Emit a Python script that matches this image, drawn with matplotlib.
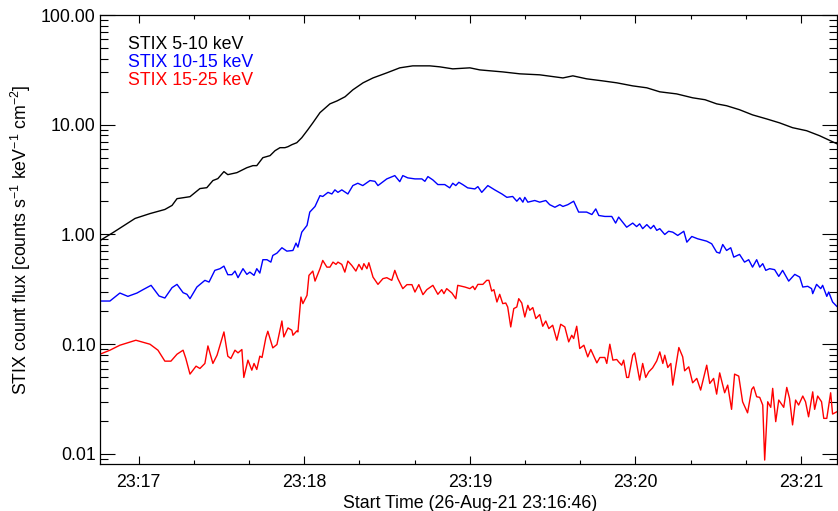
import numpy as np
import pandas as pd
import matplotlib
matplotlib.use("Agg")
import matplotlib.pyplot as plt
import matplotlib.dates as mdates
from matplotlib.ticker import LogLocator, FormatStrFormatter, NullFormatter

plt.rcParams['font.family'] = ['Liberation Sans', 'DejaVu Sans']
plt.rcParams['mathtext.default'] = 'regular'

# start of the time axis, data times are seconds after it
t_start = pd.Timestamp('2021-08-26 23:16:46')
t_span = 267

# STIX 5-10 keV
black_t = [0, 4.7, 12.7, 18.1, 23.5, 26.1, 27.9, 32.6, 36.2, 38.7,
           40.9, 42.7, 44.9, 46.3, 49.6, 53.2, 55.4, 56.8, 59.0, 61.6,
           63.4, 65.2, 67.0, 68.1, 69.5, 71.3, 73.1, 75.3, 77.1, 79.7,
           83.3, 85.9, 88.8, 91.6, 95.3, 98.9, 103.9, 108.6, 113.3, 119.5,
           123.1, 127.8, 134.0, 137.6, 145.9, 152.1, 159.3, 167.7, 171.3, 176.3,
           182.1, 187.2, 193.0, 198.1, 202.8, 208.9, 214.7, 219.2, 223.4, 227.0,
           231.7, 236.4, 241.5, 246.2, 250.9, 256.0, 260.7, 266.9]
black_v = [0.88, 1.04, 1.40, 1.55, 1.69, 1.84, 2.12, 2.21, 2.62, 2.67,
           3.10, 3.23, 3.74, 3.51, 3.66, 4.06, 4.24, 4.24, 5.01, 5.23,
           5.80, 6.18, 6.18, 6.31, 6.58, 6.86, 7.62, 9.01, 10.4, 12.9,
           15.5, 16.5, 18.0, 20.8, 24.1, 26.7, 29.7, 33.0, 34.4, 34.4,
           33.7, 32.3, 33.0, 31.6, 30.3, 29.1, 28.5, 26.7, 27.9, 26.2,
           25.1, 24.1, 22.6, 21.7, 19.95, 19.1, 17.6, 16.9, 15.5, 14.9,
           13.7, 12.3, 11.3, 10.4, 9.4, 8.82, 7.94, 6.72]

# STIX 10-15 keV
blue_t = [0, 3.6, 7.2, 10.1, 13.4, 15.6, 18.5, 21.4, 23.5, 26.1,
          27.9, 30.1, 31.5, 32.6, 35.1, 38.0, 39.5, 41.6, 43.5, 44.9,
          46.3, 47.8, 48.9, 50.0, 51.8, 53.2, 54.3, 55.8, 56.8, 57.9,
          59.0, 60.5, 61.9, 62.6, 64.1, 65.9, 67.7, 69.9, 71.0, 71.7,
          73.1, 75.0, 76.0, 77.9, 79.7, 80.7, 82.6, 84.0, 85.1, 86.2,
          87.6, 89.8, 91.6, 93.4, 95.2, 97.8, 99.6, 100.7, 103.9, 106.8,
          108.6, 109.7, 111.5, 114.1, 116.6, 117.7, 118.8, 120.6, 122.4, 124.9,
          126.7, 127.8, 128.9, 130.0, 131.4, 133.2, 135.8, 136.9, 138.3, 140.5,
          143.0, 145.6, 147.4, 149.5, 151.0, 152.1, 153.2, 153.9, 155.0, 157.5,
          159.3, 161.5, 162.9, 164.8, 166.6, 167.7, 169.5, 171.6, 173.4, 176.3,
          178.2, 179.6, 180.7, 182.9, 185.4, 186.8, 187.9, 190.8, 193.0, 194.4,
          195.5, 196.6, 198.1, 199.5, 200.6, 201.7, 202.8, 204.6, 206.0, 207.5,
          209.3, 211.5, 212.6, 214.4, 216.5, 219.8, 221.6, 223.4, 224.5, 225.6,
          227.0, 228.5, 229.6, 231.7, 233.5, 235.0, 236.4, 237.9, 239.0, 240.1,
          241.2, 242.6, 244.4, 245.9, 247.3, 249.5, 251.7, 253.5, 254.6, 256.4,
          257.8, 258.2, 259.6, 261.1, 261.8, 263.3, 264.0, 265.4, 266.9]
blue_v = [0.2475, 0.2475, 0.2927, 0.273, 0.2927, 0.3143, 0.344, 0.275, 0.2636, 0.3277,
          0.351, 0.295, 0.285, 0.260, 0.332, 0.382, 0.3685, 0.471, 0.488, 0.515,
          0.430, 0.430, 0.464, 0.404, 0.488, 0.433, 0.454, 0.424, 0.488, 0.445,
          0.589, 0.589, 0.560, 0.644, 0.676, 0.757, 0.705, 0.715, 0.834, 0.767,
          1.05, 1.21, 1.60, 1.80, 2.26, 2.22, 2.42, 2.34, 2.55, 2.42,
          2.55, 2.34, 2.79, 2.93, 2.79, 3.10, 3.05, 2.79, 3.21, 3.44,
          3.03, 3.44, 3.28, 3.21, 3.21, 3.05, 3.37, 3.14, 2.85, 2.85,
          2.66, 2.93, 2.79, 2.99, 2.85, 2.66, 2.60, 2.73, 2.42, 2.79,
          2.55, 2.34, 2.18, 2.22, 2.01, 2.16, 1.97, 2.18, 1.97, 2.04,
          1.97, 2.04, 1.87, 1.77, 1.87, 1.80, 1.87, 2.01, 1.60, 1.60,
          1.52, 1.71, 1.49, 1.46, 1.46, 1.27, 1.44, 1.165, 1.27, 1.18,
          1.25, 1.13, 1.23, 1.13, 1.21, 1.09, 1.13, 1.00, 1.07, 1.05,
          0.98, 1.07, 0.851, 0.959, 0.914, 0.869, 0.823, 0.690, 0.676, 0.811,
          0.715, 0.757, 0.622, 0.658, 0.560, 0.589, 0.504, 0.589, 0.504, 0.542,
          0.471, 0.488, 0.478, 0.415, 0.471, 0.376, 0.433, 0.409, 0.332, 0.337,
          0.321, 0.289, 0.351, 0.321, 0.344, 0.273, 0.299, 0.2425, 0.2216]

# STIX 15-25 keV
red_t = [0, 3.6, 7.2, 13.0, 18.1, 21.0, 23.5, 25.7, 27.9, 30.1,
         31.1, 32.6, 34.8, 36.2, 38.0, 39.1, 40.9, 42.4, 44.9, 46.3,
         47.4, 48.9, 50.0, 51.4, 52.1, 53.6, 55.0, 55.8, 56.8, 57.9,
         58.7, 60.1, 60.8, 62.6, 64.1, 65.9, 66.6, 68.1, 69.5, 69.9,
         71.3, 71.7, 72.8, 73.5, 75.0, 75.7, 77.1, 77.9, 79.7, 80.7,
         82.2, 83.3, 84.4, 85.5, 86.2, 87.6, 88.7, 89.8, 91.2, 92.7,
         93.8, 94.9, 95.6, 96.7, 97.4, 98.9, 100.7, 102.5, 103.9, 105.7,
         106.8, 107.9, 109.7, 111.2, 113.0, 114.1, 115.5, 117.0, 118.4, 120.6,
         122.4, 123.8, 124.6, 125.6, 127.5, 128.9, 129.6, 132.2, 134.0, 135.1,
         135.8, 136.9, 138.7, 140.1, 140.9, 141.9, 142.7, 143.8, 144.8, 145.9,
         147.0, 147.7, 148.8, 149.9, 151.0, 151.7, 152.8, 153.9, 155.0, 155.7,
         156.8, 157.9, 159.3, 160.4, 161.5, 162.6, 164.0, 165.5, 166.9, 168.4,
         169.8, 170.9, 171.6, 172.7, 173.8, 175.3, 176.7, 177.8, 180.0, 181.1,
         182.9, 183.6, 184.7, 185.8, 187.2, 187.9, 189.0, 189.7, 190.8, 191.5,
         193.0, 193.7, 195.5, 196.6, 197.7, 198.8, 200.2, 201.7, 202.8, 203.9,
         204.6, 205.7, 206.8, 207.5, 209.7, 211.1, 211.8, 213.3, 214.7, 216.2,
         217.6, 219.8, 220.9, 222.3, 223.4, 224.5, 226.3, 227.4, 228.8, 229.9,
         231.4, 232.8, 234.6, 236.1, 236.8, 237.9, 239.0, 240.1, 240.8, 241.9,
         243.0, 243.7, 244.8, 245.9, 247.7, 248.8, 249.8, 250.9, 252.0, 253.1,
         254.6, 255.6, 256.7, 258.2, 258.9, 260.0, 261.4, 262.2, 263.3, 264.7,
         265.4, 266.9]
red_v = [0.0811, 0.0882, 0.0979, 0.1087, 0.100, 0.0882, 0.0701, 0.0701, 0.0811, 0.0882,
         0.0741, 0.0534, 0.0631, 0.0601, 0.0668, 0.0965, 0.0668, 0.0794, 0.1294, 0.0778,
         0.0741, 0.0882, 0.0834, 0.0895, 0.0498, 0.0716, 0.0580, 0.0668, 0.0589, 0.0778,
         0.0757, 0.1151, 0.1313, 0.0926, 0.0994, 0.1628, 0.1165, 0.1407, 0.1341, 0.1207,
         0.1321, 0.1294, 0.269, 0.2344, 0.279, 0.424, 0.464, 0.376, 0.488, 0.580,
         0.504, 0.504, 0.560, 0.534, 0.560, 0.534, 0.454, 0.572, 0.523, 0.464,
         0.534, 0.478, 0.542, 0.488, 0.553, 0.409, 0.351, 0.396, 0.404, 0.382,
         0.471, 0.396, 0.321, 0.349, 0.349, 0.299, 0.349, 0.283, 0.3143, 0.344,
         0.285, 0.3143, 0.289, 0.321, 0.2927, 0.260, 0.344, 0.332, 0.321, 0.337,
         0.3143, 0.351, 0.351, 0.382, 0.382, 0.305, 0.3143, 0.2425, 0.285, 0.2344,
         0.2374, 0.2184, 0.1437, 0.2112, 0.2184, 0.260, 0.2374, 0.177, 0.2263, 0.2038,
         0.2157, 0.1713, 0.1862, 0.1458, 0.1628, 0.1389, 0.1489, 0.1087, 0.152, 0.1437,
         0.105, 0.1207, 0.1127, 0.1458, 0.0914, 0.0979, 0.0767, 0.0895, 0.0676, 0.0757,
         0.0757, 0.0668, 0.100, 0.0716, 0.0726, 0.069, 0.0644, 0.0716, 0.0498, 0.0498,
         0.0794, 0.0834, 0.0471, 0.0668, 0.0498, 0.056, 0.0609, 0.0705, 0.0851, 0.0668,
         0.0794, 0.0614, 0.0668, 0.0424, 0.0933, 0.0767, 0.0572, 0.0622, 0.0445, 0.0488,
         0.0382, 0.0644, 0.0439, 0.0488, 0.0351, 0.0548, 0.0361, 0.0424, 0.0255, 0.0534,
         0.0512, 0.0299, 0.0237, 0.0388, 0.0409, 0.0332, 0.0328, 0.0279, 0.0088, 0.0299,
         0.0266, 0.0396, 0.0197, 0.031, 0.0266, 0.0404, 0.0321, 0.0184, 0.031, 0.0279,
         0.0337, 0.0299, 0.0218, 0.0368, 0.0255, 0.0337, 0.0299, 0.0211, 0.0211, 0.0361,
         0.0231, 0.0242]

labels = ['STIX 5-10 keV', 'STIX 10-15 keV', 'STIX 15-25 keV']
colors = ['black', 'blue', 'red']


def to_time(secs):
    return (t_start + pd.to_timedelta(np.asarray(secs), unit='s')).to_numpy()


fs = 12.8
fig = plt.figure(figsize=(8.38, 5.11), dpi=100)
ax = fig.add_axes([100 / 838, 47 / 511, 737 / 838, 449 / 511])

for ts, vs, c in zip([black_t, blue_t, red_t], [black_v, blue_v, red_v], colors):
    ax.plot(to_time(ts), vs, color=c, lw=1.0)

ax.set_yscale('log')
ax.set_ylim(0.0081, 100)
ax.set_xlim(to_time([0])[0], to_time([t_span])[0])

ax.xaxis.set_major_locator(mdates.MinuteLocator())
ax.xaxis.set_minor_locator(mdates.SecondLocator(bysecond=[20, 40]))
ax.xaxis.set_major_formatter(mdates.DateFormatter('%H:%M'))
ax.yaxis.set_major_locator(LogLocator(base=10))
ax.yaxis.set_minor_locator(LogLocator(base=10, subs=np.arange(2, 10)))
ax.yaxis.set_major_formatter(FormatStrFormatter('%.2f'))
ax.yaxis.set_minor_formatter(NullFormatter())

ax.tick_params(which='both', direction='in', top=True, right=True, width=0.8,
               labelsize=fs)
ax.tick_params(axis='x', which='major', length=6, pad=7)
ax.tick_params(axis='x', which='minor', length=3.2)
ax.tick_params(axis='y', which='major', length=10.5, pad=3)
ax.tick_params(axis='y', which='minor', length=5.8)
for sp in ax.spines.values():
    sp.set_linewidth(0.9)

ax.set_xlabel('Start Time (26-Aug-21 23:16:46)', fontsize=fs, va='baseline')
ax.xaxis.set_label_coords((470 - 100) / 737, -(507.7 - 464) / 449)
ax.set_ylabel('STIX count flux [counts s$^{-1}$ keV$^{-1}$ cm$^{-2}$]', fontsize=fs)
ax.yaxis.label.set_va('baseline')
ax.yaxis.set_label_coords((27 - 100) / 737, 0.5)

for i, (lab, c) in enumerate(zip(labels, colors)):
    ax.text(0.0384, [0.9236, 0.8849, 0.8441][i], lab, color=c, fontsize=fs,
            transform=ax.transAxes, va='baseline', ha='left')

fig.savefig('out.png', dpi=100)
